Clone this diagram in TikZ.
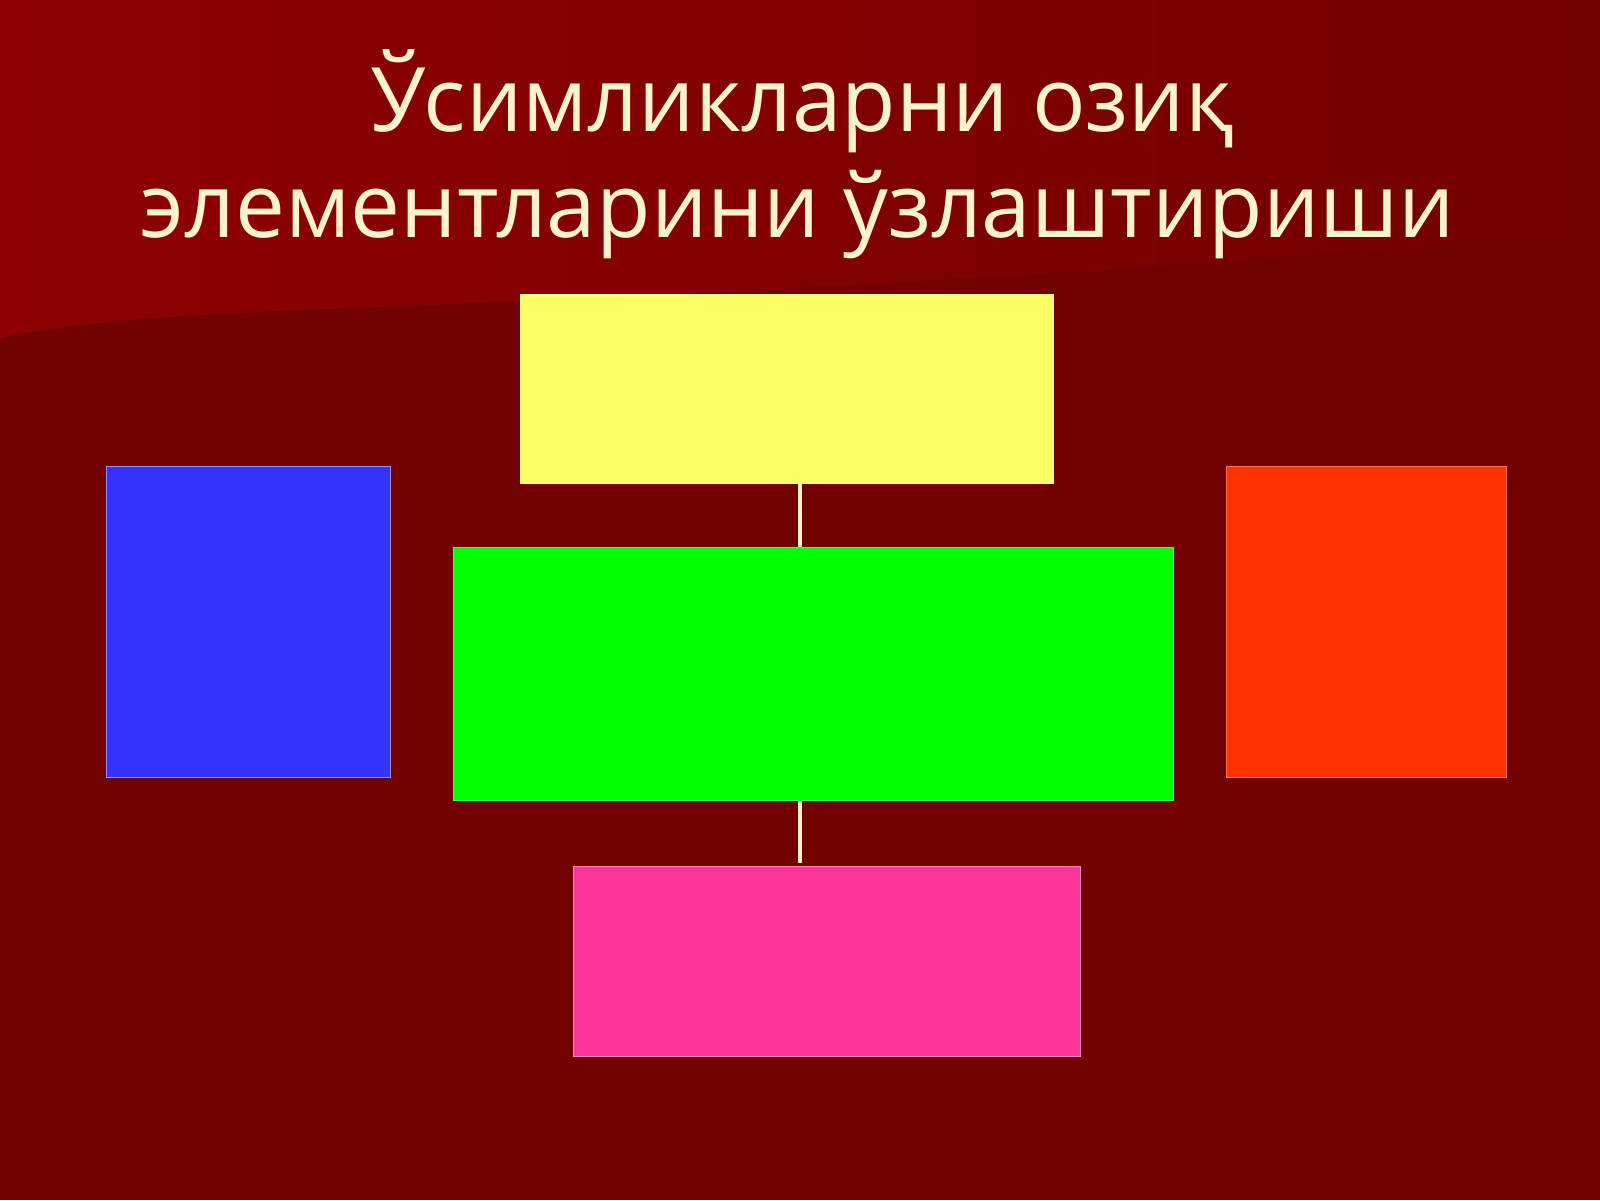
\documentclass[tikz,border=0pt]{standalone}
\usepackage{fontspec}
\setmainfont{Open Sans}
\definecolor{bgdark}{HTML}{730000}
\definecolor{bglight}{HTML}{8E0000}
\definecolor{cream}{HTML}{FFF2CF}
\definecolor{cyellow}{HTML}{FFFF66}
\definecolor{cblue}{HTML}{3333FF}
\definecolor{cgreen}{HTML}{00FF00}
\definecolor{corange}{HTML}{FF3300}
\definecolor{cpink}{HTML}{FF3399}
\tikzset{
  colbox/.style={rectangle, inner sep=0pt, line width=1pt},
  titletext/.style={text=cream, inner sep=0pt, anchor=base,
    font=\fontsize{89}{106}\selectfont},
  link/.style={draw=cream, line width=4pt}
}
\begin{document}
\begin{tikzpicture}[x=1pt,y=-1pt]
\useasboundingbox (0,0) rectangle (1600,1200);
% background
\fill[bgdark] (0,0) rectangle (1600,1200);
\shade[left color=bglight, right color=bgdark]
  (0,0) -- (1600,0) -- (1600,230)
  .. controls (1200,270) and (700,295) .. (300,310)
  .. controls (150,316) and (60,325) .. (0,338) -- cycle;
% title
\node[titletext] (title1) at (802,131) {Ўсимликларни озиқ};
\node[titletext] (title2) at (798,237) {элементларини ўзлаштириши};
% boxes
\node[colbox, fill=cyellow, draw=cyellow!70!white, minimum width=533pt, minimum height=189pt] (yellow) at (786.5,388.5) {};
\node[colbox, fill=cblue, draw=cblue!55!white, minimum width=284pt, minimum height=311pt] (blue) at (248,621.5) {};
\node[colbox, fill=cgreen, draw=cgreen!70!white, minimum width=720pt, minimum height=253pt] (green) at (813,673.5) {};
\node[colbox, fill=corange, draw=corange!70!white, minimum width=280pt, minimum height=311pt] (orange) at (1366,621.5) {};
\node[colbox, fill=cpink, draw=cpink!60!white, minimum width=507pt, minimum height=190pt] (pink) at (826.5,961) {};
% connectors
\coordinate (cx) at (800,0);
\draw[link] (yellow.south -| cx) -- (green.north -| cx);
\draw[link] (green.south -| cx) -- ([yshift=3pt]pink.north -| cx);
\end{tikzpicture}
\end{document}
